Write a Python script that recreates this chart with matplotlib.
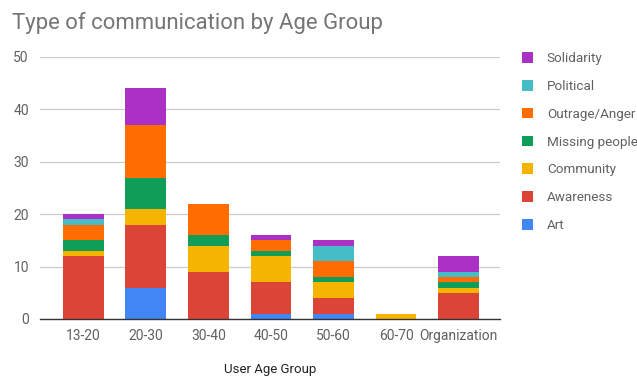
import matplotlib
matplotlib.use("Agg")
import matplotlib.pyplot as plt
import numpy as np
from matplotlib.patches import Patch

plt.rcParams['font.family'] = ['Roboto', 'DejaVu Sans']

groups = ["13-20", "20-30", "30-40", "40-50", "50-60", "60-70", "Organization"]
series = ["Art", "Awareness", "Community", "Missing people",
          "Outrage/Anger", "Political", "Solidarity"]
art = [0, 6, 0, 1, 1, 0, 0]
awareness = [12, 12, 9, 6, 3, 0, 5]
community = [1, 3, 5, 5, 3, 1, 1]
missing_people = [2, 6, 2, 1, 1, 0, 1]
outrage_anger = [3, 10, 6, 2, 3, 0, 1]
political = [1, 0, 0, 0, 3, 0, 1]
solidarity = [1, 7, 0, 1, 1, 0, 3]
values = [art, awareness, community, missing_people, outrage_anger, political, solidarity]
colors = ["#4285F4", "#DB4437", "#F4B400", "#0F9D58", "#FF6D00", "#46BDC6", "#AB30C4"]

fig = plt.figure(figsize=(6.37, 3.76), dpi=100)
ax = fig.add_axes([40 / 637, 1 - 319 / 376, 460 / 637, 262 / 376])

x = np.arange(len(groups))
bottom = np.zeros(len(groups))
for name, vals, col in zip(series, values, colors):
    v = np.array(vals, dtype=float)
    ax.bar(x, v, bottom=bottom, width=0.65, color=col, label=name, zorder=3, linewidth=0)
    bottom += v

ax.set_xlim(-0.69, 6.66)
ax.set_ylim(0, 50)
ax.set_yticks([0, 10, 20, 30, 40, 50])
ax.grid(axis='y', color='#cccccc', linewidth=0.9, zorder=0)
ax.set_axisbelow(True)
for s in ['top', 'right', 'left']:
    ax.spines[s].set_visible(False)
ax.spines['bottom'].set_color('#333333')
ax.spines['bottom'].set_linewidth(1.0)
ax.spines['bottom'].set_zorder(4)
ax.tick_params(axis='both', length=0, labelsize=10, colors='#444444', labelcolor='#616161')
ax.tick_params(axis='y', pad=8)
ax.tick_params(axis='x', pad=7)
ax.set_xticks(x)
ax.set_xticklabels(groups)

# axis title sits near the bottom edge of the canvas
fig.text(270 / 637, 1 - 369 / 376, "User Age Group", fontsize=9.5, color='#222222',
         ha='center', va='center')

fig.text(12 / 637, 1 - 23 / 376, "Type of communication by Age Group",
         fontsize=15.9, color='#757575', ha='left', va='center')

handles = [Patch(facecolor=c, edgecolor='none') for c in colors][::-1]
labels = series[::-1]
fig.legend(handles, labels, loc='upper left', bbox_to_anchor=(522 / 637, 1 - 52 / 376),
           frameon=False, fontsize=9.7, labelcolor='#616161',
           handlelength=0.85, handleheight=0.85, handletextpad=1.0,
           labelspacing=1.1, borderaxespad=0, borderpad=0)

fig.savefig("out.png", dpi=100)
